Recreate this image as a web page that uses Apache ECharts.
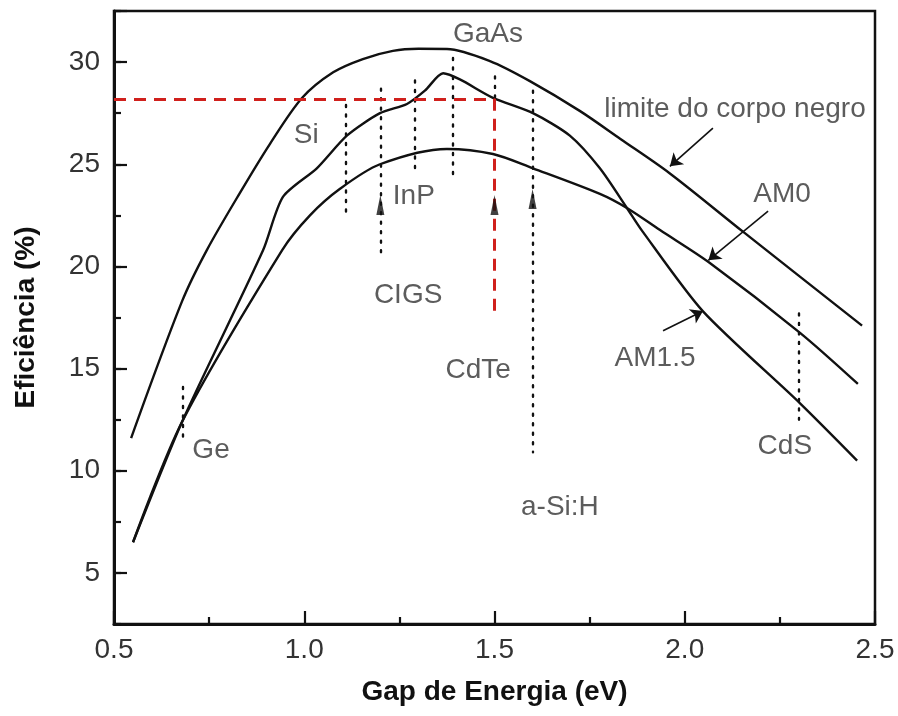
<!DOCTYPE html>
<html>
<head>
<meta charset="utf-8">
<script src="https://cdn.jsdelivr.net/npm/echarts@6/dist/echarts.min.js"></script>
<style>
  html, body { margin: 0; padding: 0; background: #ffffff; }
  #chart { width: 898px; height: 716px; }
</style>
</head>
<body>
<div id="chart"></div>
<script>
// Efficiency limit vs. band gap: black-body limit, AM0 and AM1.5 spectra
const xTickValues = [0.5, 1.0, 1.5, 2.0, 2.5];
const yTickValues = [5, 10, 15, 20, 25, 30];

const blackBodyGap = [0.545, 0.679, 0.744, 0.831, 0.910, 0.994, 1.076, 1.154, 1.233, 1.300, 1.375, 1.488, 1.593, 1.725, 1.830, 1.961, 2.153, 2.466];
const blackBodyEff = [11.6, 18.3, 20.8, 23.6, 26.0, 28.24, 29.5, 30.15, 30.55, 30.65, 30.64, 30.05, 29.07, 27.6, 26.25, 24.55, 21.7, 17.1];

const am15Gap = [0.550, 0.679, 0.892, 0.944, 1.033, 1.112, 1.199, 1.270, 1.317, 1.365, 1.409, 1.496, 1.601, 1.698, 1.777, 1.848, 1.888, 2.048, 2.303, 2.453];
const am15Eff = [6.5, 12.4, 20.8, 23.4, 24.8, 26.4, 27.5, 27.95, 28.6, 29.45, 29.15, 28.25, 27.5, 26.4, 24.8, 22.86, 21.74, 17.8, 13.3, 10.5];

const am0Gap = [0.550, 0.679, 0.942, 1.015, 1.094, 1.199, 1.375, 1.496, 1.601, 1.777, 1.848, 1.935, 2.066, 2.303, 2.455];
const am0Eff = [6.5, 12.4, 20.8, 22.5, 23.8, 25.0, 25.75, 25.5, 24.8, 23.55, 22.86, 21.78, 20.17, 16.75, 14.25];

// Material band gaps with the dotted vertical markers
const materials  = ['Ge', 'Si', 'CIGS', 'InP', 'GaAs', 'CdTe', 'a-Si:H', 'CdS'];
const matGap     = [0.68, 1.11, 1.20, 1.29, 1.39, 1.50, 1.60, 2.30];
const matTop     = [14.1, 27.9, 28.7, 29.1, 30.2, 29.3, 28.6, 17.7];
const matBottom  = [11.5, 22.5, 20.5, 24.6, 24.4, 28.2, 10.9, 12.5];
const labelX     = [0.755, 1.005, 1.273, 1.288, 1.483, 1.457, 1.672, 2.263];
const labelY     = [11.0, 26.4, 18.6, 23.45, 31.37, 14.94, 8.19, 11.2];

// Upward arrowheads on CIGS, CdTe and a-Si:H markers
const headGap = [1.20, 1.50, 1.60];
const headEff = [23.0, 23.0, 23.3];

// CdTe reference: 28.2 % at 1.5 eV
const cdteGap = 1.5;
const cdteEff = 28.2;
const cdteLineBottom = 17.5;

// Curve names and their pointer arrows
const curveNames = ['limite do corpo negro', 'AM0', 'AM1.5'];
const curveLabelX = [2.132, 2.256, 1.922];
const curveLabelY = [27.7, 23.55, 15.48];
const pointerFrom = [[2.074, 26.77], [2.219, 22.71], [1.943, 16.85]];
const pointerTo   = [[1.961, 24.9], [2.062, 20.3], [2.048, 17.82]];

const FONT = 'Liberation Sans, Arial, Helvetica, sans-serif';
const INK = '#111111';
const TEXT = '#333333';

const zip = (xs, ys) => xs.map((x, i) => [x, ys[i]]);

const gridLeft = 114, gridRight = 23, gridTop = 11, gridBottom = 92;
const plotH = 716 - gridTop - gridBottom;
const yMin = 2.5, yMax = 32.5;
// second grid ends at y = 5 so its major ticks sit on the multiples of 5
const majorGridHeight = plotH * (yMax - 5) / (yMax - yMin);

const chart = echarts.init(document.getElementById('chart'), null, { renderer: 'canvas' });

const curveStyle = { color: INK, width: 2.4 };

const option = {
  animation: false,
  backgroundColor: '#ffffff',
  grid: [
    { left: gridLeft, right: gridRight, top: gridTop, bottom: gridBottom,
      show: true, borderColor: INK, borderWidth: 2.5, backgroundColor: 'transparent' },
    { left: gridLeft, right: gridRight, top: gridTop, height: majorGridHeight, show: false }
  ],
  xAxis: [
    {
      type: 'value', gridIndex: 0, min: 0.5, max: 2.5, interval: 0.5,
      name: 'Gap de Energia (eV)', nameLocation: 'middle', nameGap: 54,
      nameTextStyle: { fontFamily: FONT, fontSize: 28, fontWeight: 'bold', color: INK },
      axisLine: { show: true, lineStyle: { color: INK, width: 3 } },
      axisTick: { show: true, inside: true, length: 13, lineStyle: { color: INK, width: 2.2 } },
      minorTick: { show: true, splitNumber: 2, length: 7, lineStyle: { color: INK, width: 2.2 } },
      axisLabel: { show: true, margin: 12, fontFamily: FONT, fontSize: 28, color: TEXT,
        formatter: v => (xTickValues.some(t => Math.abs(t - v) < 1e-9) ? v.toFixed(1) : '') },
      splitLine: { show: false }
    },
    { type: 'value', gridIndex: 1, min: 0.5, max: 2.5, show: false }
  ],
  yAxis: [
    {
      type: 'value', gridIndex: 0, min: yMin, max: yMax, interval: 2.5,
      name: 'Eficiência (%)', nameLocation: 'middle', nameGap: 74, nameRotate: 90,
      nameTextStyle: { fontFamily: FONT, fontSize: 28, fontWeight: 'bold', color: INK },
      axisLine: { show: true, lineStyle: { color: INK, width: 3 } },
      axisTick: { show: true, inside: true, length: 7, lineStyle: { color: INK, width: 2.2 } },
      axisLabel: { show: true, margin: 14, fontFamily: FONT, fontSize: 28, color: TEXT,
        formatter: v => (yTickValues.some(t => Math.abs(t - v) < 1e-9) ? String(v) : '') },
      splitLine: { show: false }
    },
    {
      type: 'value', gridIndex: 1, min: 5, max: yMax, interval: 5,
      axisLine: { show: false },
      axisTick: { show: true, inside: true, length: 13, lineStyle: { color: INK, width: 2.2 } },
      axisLabel: { show: false },
      splitLine: { show: false }
    }
  ],
  series: [
    { type: 'line', name: 'limite do corpo negro', data: zip(blackBodyGap, blackBodyEff),
      smooth: 0.3, showSymbol: false, lineStyle: curveStyle, z: 3 },
    { type: 'line', name: 'AM1.5', data: zip(am15Gap, am15Eff),
      smooth: 0.25, showSymbol: false, lineStyle: curveStyle, z: 3 },
    { type: 'line', name: 'AM0', data: zip(am0Gap, am0Eff),
      smooth: 0.3, showSymbol: false, lineStyle: curveStyle, z: 3 },
    // dotted band-gap markers
    { type: 'lines', coordinateSystem: 'cartesian2d', polyline: false, z: 2,
      lineStyle: { color: INK, width: 2.4, type: [2, 7.5], cap: 'round', opacity: 1 },
      data: materials.map((m, i) => ({ name: m, coords: [[matGap[i], matTop[i]], [matGap[i], matBottom[i]]] })) },
    // red reference lines for CdTe
    { type: 'lines', coordinateSystem: 'cartesian2d', polyline: false, z: 4,
      lineStyle: { color: '#d0201c', width: 3, type: [12, 8], opacity: 1 },
      data: [
        { coords: [[0.5, cdteEff], [cdteGap, cdteEff]] },
        { coords: [[cdteGap, cdteEff], [cdteGap, cdteLineBottom]] }
      ] },
    // arrowheads on markers
    { type: 'scatter', data: zip(headGap, headEff), symbol: 'triangle', symbolSize: [8, 20],
      itemStyle: { color: INK }, z: 5 },
    // pointer arrows to the curves
    { type: 'lines', coordinateSystem: 'cartesian2d', polyline: false, z: 5,
      symbol: ['none', 'arrow'], symbolSize: 12,
      lineStyle: { color: INK, width: 1.6, opacity: 1 },
      data: pointerFrom.map((p, i) => ({ coords: [p, pointerTo[i]] })) },
    // material labels
    { type: 'scatter', symbolSize: 0, z: 6,
      data: materials.map((m, i) => ({ name: m, value: [labelX[i], labelY[i]] })),
      label: { show: true, position: 'inside', formatter: p => p.name,
        fontFamily: FONT, fontSize: 28, color: TEXT } },
    // curve labels
    { type: 'scatter', symbolSize: 0, z: 6,
      data: curveNames.map((m, i) => ({ name: m, value: [curveLabelX[i], curveLabelY[i]] })),
      label: { show: true, position: 'inside', formatter: p => p.name,
        fontFamily: FONT, fontSize: 28, color: TEXT } }
  ]
};

chart.setOption(option);
</script>
</body>
</html>
